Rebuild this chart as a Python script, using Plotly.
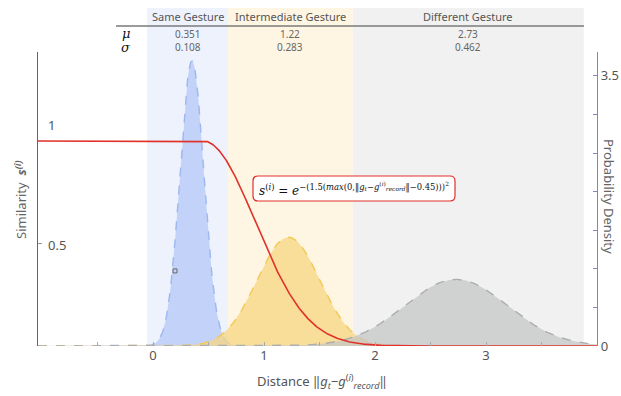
import numpy as np
import plotly.graph_objects as go

# ---- data ----
categories = ["Same Gesture", "Intermediate Gesture", "Different Gesture"]
mu = [0.351, 1.22, 2.73]
sigma = [0.108, 0.283, 0.462]
sim_scale = 1.5
sim_offset = 0.45
x_ticks = [-0.5, 0, 0.5, 1, 1.5, 2, 2.5, 3, 3.5]
x_ticktext = ["", "0", "", "1", "", "2", "", "3", ""]
y_ticks = [0, 0.5, 1, 1.5, 2, 2.5, 3, 3.5]
y_ticktext = ["0", "", "", "", "", "", "", "3.5"]

# ---- layout constants ----
W, H = 621, 396
L, R, T, B = 38, 24, 52, 50
XR = [-1.036, 4.0]
SIM_R = [0, 1.434]
PDF_R = [0, 3.81]
band_edges = [-0.054, 0.676, 1.80, 3.88]
band_colors = ["#edf2fd", "#fef6e3", "#f1f1f1"]
fill_colors = ["rgba(186,205,247,0.85)", "rgba(247,214,128,0.75)", "rgba(196,197,197,0.75)"]
line_colors = ["#9db7ef", "#f2c957", "#adadad"]
RED = "#e0322a"
AX2 = "#8585c6"
FONT = "Noto Sans"

pw, ph = W - L - R, H - T - B
def px(xp):
    return (xp - L) / pw
def py(yp):
    return (H - B - yp) / ph

xs = np.linspace(XR[0], XR[1], 801)
fig = go.Figure()

# probability densities on the base (right-side) axis
for c, m, s, fc, lc in zip(categories, mu, sigma, fill_colors, line_colors):
    pdf = np.exp(-0.5 * ((xs - m) / s) ** 2) / (s * np.sqrt(2 * np.pi))
    fig.add_trace(go.Scatter(x=xs, y=pdf, yaxis="y", mode="lines", name=c,
                             fill="tozeroy", fillcolor=fc,
                             line=dict(color=lc, width=1.4, dash="dash")))

fig.add_trace(go.Scatter(x=[0.198], y=[0.973], yaxis="y", mode="markers",
                         marker=dict(symbol="square-open", size=4, color="#666",
                                     line=dict(width=1)), showlegend=False))

# similarity on the overlaying (left-side) axis, drawn on top
sim = np.exp(-(sim_scale * np.maximum(0, xs - sim_offset)) ** 2)
fig.add_trace(go.Scatter(x=xs, y=sim, yaxis="y2", mode="lines", name="similarity",
                         line=dict(color=RED, width=1.6)))

shapes = []
for i in range(3):
    shapes.append(dict(type="rect", xref="x", yref="paper", x0=band_edges[i], x1=band_edges[i + 1],
                       y0=0, y1=py(8), fillcolor=band_colors[i], line=dict(width=0), layer="below"))
shapes.append(dict(type="line", xref="paper", yref="paper", x0=px(116), x1=px(584),
                   y0=py(26), y1=py(26), line=dict(color="#7a7a7a", width=1.6)))

# rounded formula box
bx0, bx1, by0, by1, r = 253, 455, 176, 201, 5
path = (f"M{bx0 + r},{by0} L{bx1 - r},{by0} Q{bx1},{by0} {bx1},{by0 + r} "
        f"L{bx1},{by1 - r} Q{bx1},{by1} {bx1 - r},{by1} L{bx0 + r},{by1} "
        f"Q{bx0},{by1} {bx0},{by1 - r} L{bx0},{by0 + r} Q{bx0},{by0} {bx0 + r},{by0} Z")
def conv_path(p):
    out = []
    for tok in p.replace("M", " M ").replace("L", " L ").replace("Q", " Q ").replace("Z", " Z ").split():
        if "," in tok:
            a, b = tok.split(",")
            out.append(f"{px(float(a)):.5f},{py(float(b)):.5f}")
        else:
            out.append(tok)
    return " ".join(out)
shapes.append(dict(type="path", xref="paper", yref="paper", path=conv_path(path),
                   fillcolor="white", line=dict(color=RED, width=1.2)))

ann = []
def add(xp, yp, text, size, color="#555", family=FONT, xanchor="center", angle=0, xref="paper"):
    ann.append(dict(x=xp if xref != "paper" else px(xp), xref=xref, y=py(yp), yref="paper",
                    text=text, showarrow=False, xanchor=xanchor, yanchor="middle",
                    textangle=angle, font=dict(family=family, size=size, color=color)))

centers = [(band_edges[i] + band_edges[i + 1]) / 2 for i in range(3)]
for c, m, s, xc in zip(categories, mu, sigma, centers):
    add(xc, 17, c, 11, "#555", xref="x")
    add(xc, 34, str(m), 10, "#666", xref="x")
    add(xc, 47, str(s), 10, "#666", xref="x")
add(126, 33, "<i>μ</i>", 13, "#111", family="DejaVu Serif")
add(126, 48, "<i>σ</i>", 13, "#111", family="DejaVu Serif")

add(46, 125, "1", 13, "#555", xanchor="left")
add(46, 245, "0.5", 13, "#555", xanchor="left")

add(20, 200, "Similarity  <b><i>s</i></b><sup><b><i>(i)</i></b></sup>", 13, "#666", angle=-90)
add(609, 196, "Probability Density", 13, "#666", angle=90)
add(322, 381, "Distance ‖<i>g<sub>t</sub></i>−<i>g</i><sup>(<i>i</i>)</sup><sub><i>record</i></sub>‖",
    13, "#555")
add(354, 189, "<i>s</i><sup>(<i>i</i>)</sup> = <i>e</i><sup>−(1.5(<i>max</i>(0,‖<i>g<sub>t</sub></i>−<i>g</i><sup>(<i>i</i>)</sup><sub><i>record</i></sub>‖−0.45)))<sup>2</sup></sup>",
    12, "#111", family="DejaVu Serif")

fig.update_layout(
    width=W, height=H, margin=dict(l=L, r=R, t=T, b=B, autoexpand=False),
    paper_bgcolor="white", plot_bgcolor="rgba(0,0,0,0)", showlegend=False,
    font=dict(family=FONT),
    xaxis=dict(range=XR, showgrid=False, zeroline=False, showline=False,
               tickvals=x_ticks, ticktext=x_ticktext, ticks="inside", ticklen=4,
               tickcolor="#aaa", tickfont=dict(size=13, color="#555")),
    yaxis=dict(range=PDF_R, side="right", showgrid=False, zeroline=False,
               showline=True, linecolor=AX2, linewidth=1.2, tickvals=y_ticks,
               ticktext=y_ticktext, ticks="inside", ticklen=4, tickcolor=AX2,
               tickfont=dict(size=13, color="#555")),
    yaxis2=dict(range=SIM_R, overlaying="y", side="left", showgrid=False, zeroline=False,
                showline=True, linecolor=RED, linewidth=1.2, tickvals=[0.5], ticks="inside",
                ticklen=4, tickcolor="#999", showticklabels=False),
    shapes=shapes, annotations=ann,
)
fig.write_html("out.html", config={"displayModeBar": False},
               post_script="document.body.style.margin='0';document.body.style.overflow='hidden';")
